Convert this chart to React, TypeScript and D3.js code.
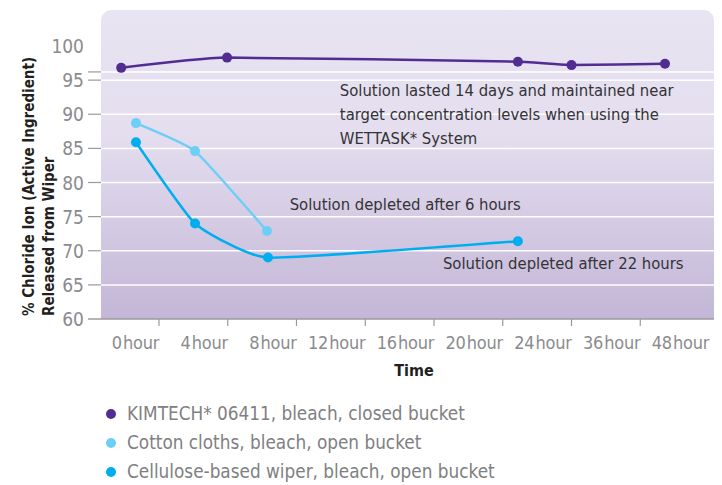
import React, { useRef, useEffect } from "react";
import * as d3 from "d3";

// x positions are in category-axis units (0 = "0hour" tick, 1 = "4hour" tick, ...)
const categories = ["0\u200Ahour", "4\u200Ahour", "8\u200Ahour", "12\u200Ahour", "16\u200Ahour", "20\u200Ahour", "24\u200Ahour", "36\u200Ahour", "48\u200Ahour"];
const yTicks = [60, 65, 70, 75, 80, 85, 90, 95, 100];
const gridValues = [65, 70, 75, 80, 85, 90, 95, 96.2];

const kimtechPos = [-0.55, 0.99, 5.22, 6.0, 7.36];
const kimtechVals = [96.8, 98.3, 97.7, 97.2, 97.4];
const cottonPos = [-0.335, 0.524, 1.57];
const cottonVals = [88.7, 84.6, 72.9];
const cellulosePos = [-0.335, 0.524, 1.585, 5.22];
const celluloseVals = [85.9, 74.0, 69.0, 71.4];

const seriesNames = [
  "KIMTECH* 06411, bleach, closed bucket",
  "Cotton cloths, bleach, open bucket",
  "Cellulose-based wiper, bleach, open bucket",
];
const seriesColors = ["#512d92", "#6dcff6", "#00aeef"];

const notes = [
  { pos: 2.63, y: 92.7, lines: ["Solution lasted 14 days and maintained near", "target concentration levels when using the", "WETTASK* System"] },
  { pos: 1.9, y: 76.0, lines: ["Solution depleted after 6 hours"] },
  { pos: 4.13, y: 67.3, lines: ["Solution depleted after 22 hours"] },
];

const FONT = "'Liberation Sans Narrow', 'DejaVu Sans Condensed', 'Roboto', sans-serif";

const App = () => {
  const svgRef = useRef<SVGSVGElement>(null);

  useEffect(() => {
    document.body.style.margin = "0";
    const width = 722;
    const height = 485;
    const plot = { left: 101, right: 714, top: 10, bottom: 319 };

    const svg = d3.select(svgRef.current).attr("width", width).attr("height", height);
    svg.selectAll("*").remove();

    const x = d3.scaleLinear().domain([0, categories.length - 1]).range([159, 709]);
    const y = d3.scaleLinear().domain([60, 100]).range([plot.bottom, 46]);

    // background gradient
    const defs = svg.append("defs");
    const grad = defs.append("linearGradient").attr("id", "bg").attr("x1", 0).attr("y1", 0).attr("x2", 0).attr("y2", 1);
    grad.append("stop").attr("offset", 0).attr("stop-color", "#e8e4f1");
    grad.append("stop").attr("offset", 0.4).attr("stop-color", "#e4deef");
    grad.append("stop").attr("offset", 1).attr("stop-color", "#c3b6d7");

    const r = 10;
    const bgPath = d3.path();
    bgPath.moveTo(plot.left, plot.bottom);
    bgPath.lineTo(plot.left, plot.top + r);
    bgPath.arcTo(plot.left, plot.top, plot.left + r, plot.top, r);
    bgPath.lineTo(plot.right - r, plot.top);
    bgPath.arcTo(plot.right, plot.top, plot.right, plot.top + r, r);
    bgPath.lineTo(plot.right, plot.bottom);
    bgPath.closePath();
    svg.append("path").attr("d", bgPath.toString()).attr("fill", "url(#bg)");

    // gridlines + left ticks
    svg.append("g").selectAll("line").data(gridValues).join("line")
      .attr("x1", plot.left).attr("x2", plot.right)
      .attr("y1", (d) => y(d)).attr("y2", (d) => y(d))
      .attr("stroke", "#ffffff").attr("stroke-width", 1.5);
    svg.append("g").selectAll("line").data(gridValues).join("line")
      .attr("x1", 88).attr("x2", plot.left)
      .attr("y1", (d) => y(d)).attr("y2", (d) => y(d))
      .attr("stroke", "#9b9b9d").attr("stroke-width", 1.2);

    // x axis line + ticks
    svg.append("line").attr("x1", 88).attr("x2", plot.right).attr("y1", plot.bottom).attr("y2", plot.bottom)
      .attr("stroke", "#9b9b9d").attr("stroke-width", 1.5);
    svg.append("g").selectAll("line").data(categories.slice(0, -1)).join("line")
      .attr("x1", (_, i) => x(i)).attr("x2", (_, i) => x(i))
      .attr("y1", plot.bottom).attr("y2", plot.bottom + 7)
      .attr("stroke", "#9b9b9d").attr("stroke-width", 1.2);

    // tick labels
    svg.append("g").selectAll("text").data(yTicks).join("text")
      .attr("x", 84).attr("y", (d) => y(d) + 7)
      .attr("text-anchor", "end").attr("font-family", FONT).attr("font-size", 19)
      .attr("fill", "#8b8b8e").text((d) => d);
    svg.append("g").selectAll("text").data(categories).join("text")
      .attr("x", (_, i) => x(i)).attr("y", 349)
      .attr("text-anchor", "end").attr("font-family", FONT).attr("font-size", 18)
      .attr("letter-spacing", -0.3)
      .attr("fill", "#8b8b8e").text((d) => d);

    // axis titles
    svg.append("text").attr("x", 414).attr("y", 376).attr("text-anchor", "middle")
      .attr("font-family", FONT).attr("font-weight", "bold").attr("font-size", 16)
      .attr("fill", "#231f20").text("Time");
    const yTitle = svg.append("text").attr("transform", "translate(34,316) rotate(-90)")
      .attr("font-family", FONT).attr("font-weight", "bold").attr("font-size", 15).attr("fill", "#231f20");
    yTitle.append("tspan").attr("x", 0).attr("y", 0).text("% Chloride Ion (Active Ingredient)");
    yTitle.append("tspan").attr("x", 0).attr("y", 20).text("Released from Wiper");

    // annotations
    notes.forEach((n) => {
      const t = svg.append("text").attr("font-family", FONT).attr("font-size", 16.5).attr("fill", "#333335");
      n.lines.forEach((line, i) => {
        t.append("tspan").attr("x", x(n.pos)).attr("y", y(n.y) + i * 24).text(line);
      });
    });

    // series
    const series = [
      { pos: kimtechPos, vals: kimtechVals },
      { pos: cottonPos, vals: cottonVals },
      { pos: cellulosePos, vals: celluloseVals },
    ];
    const line = d3.line<[number, number]>().x((d) => x(d[0])).y((d) => y(d[1])).curve(d3.curveCardinal.tension(0.6));
    series.forEach((s, si) => {
      const pts = s.pos.map((p, i) => [p, s.vals[i]] as [number, number]);
      svg.append("path").datum(pts).attr("fill", "none").attr("stroke", seriesColors[si])
        .attr("stroke-width", 2.5).attr("d", line);
      svg.append("g").selectAll("circle").data(pts).join("circle")
        .attr("cx", (d) => x(d[0])).attr("cy", (d) => y(d[1])).attr("r", 5)
        .attr("fill", seriesColors[si]);
    });

    // legend
    const legend = svg.append("g").attr("transform", "translate(111,414)");
    seriesNames.forEach((name, i) => {
      legend.append("circle").attr("cx", 0).attr("cy", i * 29).attr("r", 5).attr("fill", seriesColors[i]);
      legend.append("text").attr("x", 16).attr("y", i * 29 + 6).attr("font-family", FONT)
        .attr("font-size", 18.8).attr("fill", "#808083").text(name);
    });
  }, []);

  return <svg ref={svgRef} />;
};

export default App;
